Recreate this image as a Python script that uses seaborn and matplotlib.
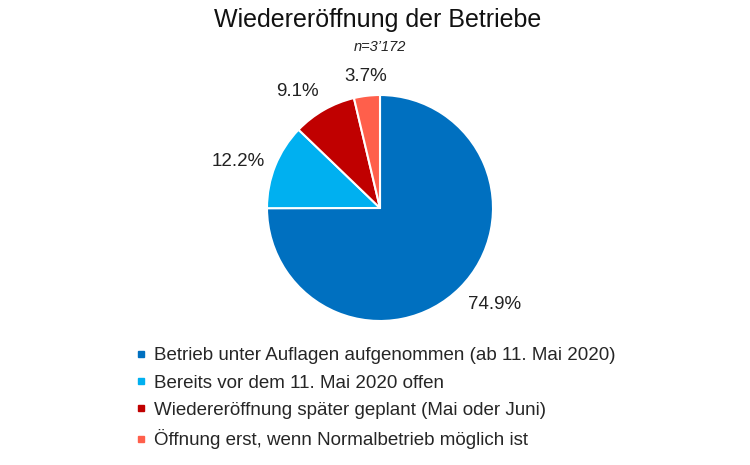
import matplotlib
matplotlib.use("Agg")
import matplotlib.pyplot as plt
from matplotlib.lines import Line2D
import numpy as np
import seaborn as sns

# Daten
categories = [
    "Betrieb unter Auflagen aufgenommen (ab 11. Mai 2020)",
    "Bereits vor dem 11. Mai 2020 offen",
    "Wiedereröffnung später geplant (Mai oder Juni)",
    "Öffnung erst, wenn Normalbetrieb möglich ist",
]
shares = [74.9, 12.2, 9.1, 3.7]
colors = ["#0070C0", "#00B0F0", "#C00000", "#FF5F4B"]

sns.set_theme(style="white")
plt.rcParams["font.family"] = ["Liberation Sans", "DejaVu Sans"]

fig = plt.figure(figsize=(7.5, 4.65), dpi=100)
ax = fig.add_axes([267 / 750, 144 / 465, 226 / 750, 226 / 465])

wedges, _ = ax.pie(
    shares,
    colors=colors,
    startangle=90,
    counterclock=False,
    wedgeprops=dict(edgecolor="white", linewidth=1.5),
)

# Beschriftung aussen, verankert wie in Excel
for w, v in zip(wedges, shares):
    ang = np.deg2rad((w.theta1 + w.theta2) / 2)
    c, s = np.cos(ang), np.sin(ang)
    ha = "left" if c > 0.3 else ("right" if c < -0.3 else "center")
    va = "bottom" if s > 0.5 else ("top" if s < -0.5 else "center")
    ax.text(1.1 * c, 1.1 * s, f"{v:.1f}%", ha=ha, va=va,
            fontsize=13.5, color="#222222")

ax.set_xlim(-1, 1)
ax.set_ylim(-1, 1)
ax.set_aspect("equal")

fig.text(378 / 750, 1 - 20 / 465, "Wiedereröffnung der Betriebe",
         ha="center", va="center", fontsize=18, color="#111111")
fig.text(380 / 750, 1 - 47 / 465, "n=3’172", ha="center", va="center",
         fontsize=10.5, style="italic", color="#222222")

handles = [Line2D([], [], marker="s", linestyle="none", markersize=5,
                  markerfacecolor=c, markeredgecolor=c) for c in colors]
fig.legend(handles, categories, loc="upper left",
           bbox_to_anchor=(135 / 750, 1 - 347 / 465), frameon=False,
           fontsize=13.5, handlelength=0.6, handletextpad=0.4,
           labelspacing=0.55, borderpad=0, borderaxespad=0)

fig.savefig("out.png", dpi=100)
